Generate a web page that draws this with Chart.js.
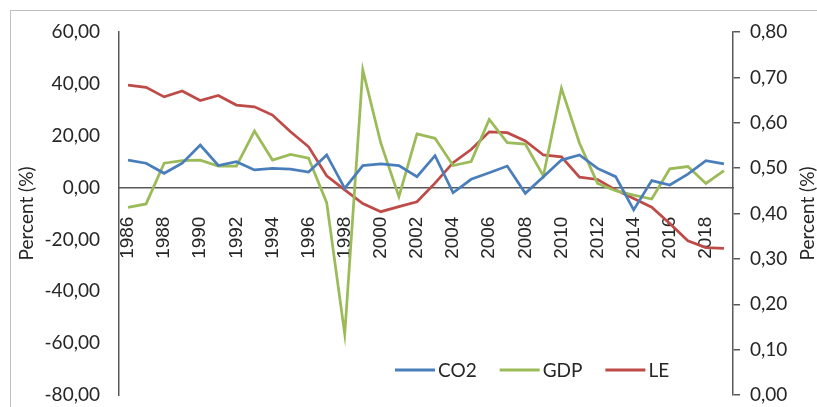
<!DOCTYPE html>
<html>
<head>
<meta charset="utf-8">
<script src="https://cdn.jsdelivr.net/npm/chart.js@4/dist/chart.umd.min.js"></script>
<style>
    html, body { margin: 0; padding: 0; background: #fff; overflow: hidden; }
    canvas { display: block; }
</style>
</head>
<body>
<canvas id="chart" width="817" height="407"></canvas>
<script>
const years = ['1986', '1987', '1988', '1989', '1990', '1991', '1992', '1993', '1994', '1995',
    '1996', '1997', '1998', '1999', '2000', '2001', '2002', '2003', '2004', '2005',
    '2006', '2007', '2008', '2009', '2010', '2011', '2012', '2013', '2014', '2015',
    '2016', '2017', '2018', '2019'];

const co2 = [10.6, 9.4, 5.5, 9.4, 16.4, 8.5, 10.0, 6.8, 7.4, 7.1,
    6.0, 12.6, -0.3, 8.5, 9.1, 8.5, 4.2, 12.3, -2.0, 3.2,
    5.7, 8.3, -2.2, 4.2, 10.6, 12.6, 7.4, 4.2, -8.6, 2.7,
    1.0, 5.2, 10.4, 9.1];

const gdp = [-7.6, -6.3, 9.4, 10.4, 10.6, 8.3, 8.3, 21.8, 10.6, 12.8,
    11.3, -5.8, -56.5, 45.4, 17.1, -3.5, 20.7, 19.0, 8.5, 10.0,
    26.3, 17.3, 16.8, 4.5, 38.3, 17.1, 1.6, -1.2, -2.9, -4.4,
    7.2, 8.1, 1.6, 6.5];

// life expectancy series sits on the right axis
const le = [0.683, 0.678, 0.657, 0.670, 0.649, 0.660, 0.639, 0.635, 0.617, 0.580,
    0.547, 0.483, 0.452, 0.422, 0.404, 0.415, 0.426, 0.467, 0.512, 0.541,
    0.580, 0.578, 0.560, 0.529, 0.525, 0.480, 0.475, 0.452, 0.433, 0.414,
    0.378, 0.340, 0.325, 0.323];

const seriesNames = ['CO2', 'GDP', 'LE'];
const axisTitle = 'Percent (%)';

const leftRange = { min: -80, max: 60, step: 20 };
const rightRange = { min: 0, max: 0.8, step: 0.1 };

const fmt = v => v.toFixed(2).replace('.', ',');
const axisColor = '#595959';
const textColor = '#262626';

// outer frame, titles and the legend (legend sits inside the plot like in Excel)
const decorPlugin = {
    id: 'decor',
    beforeDraw(chart) {
        const ctx = chart.ctx;
        ctx.save();
        ctx.strokeStyle = '#bfbfbf';
        ctx.lineWidth = 1;
        ctx.strokeRect(10.5, 10.5, 900, 500);
        ctx.restore();
    },
    afterDraw(chart) {
        const ctx = chart.ctx;
        const area = chart.chartArea;
        const midY = (area.top + area.bottom) / 2;
        ctx.save();
        ctx.fillStyle = textColor;
        ctx.font = '19px Lato';
        ctx.textAlign = 'center';
        ctx.textBaseline = 'middle';
        [27, 808].forEach(x => {
            ctx.save();
            ctx.translate(x, midY);
            ctx.rotate(-Math.PI / 2);
            ctx.fillText(axisTitle, 0, 0);
            ctx.restore();
        });

        let x = 395;
        const y = 370;
        ctx.textAlign = 'left';
        chart.data.datasets.forEach(ds => {
            ctx.strokeStyle = ds.borderColor;
            ctx.lineWidth = 3;
            ctx.beginPath();
            ctx.moveTo(x, y);
            ctx.lineTo(x + 40, y);
            ctx.stroke();
            ctx.fillStyle = textColor;
            ctx.fillText(ds.label, x + 43, y + 1);
            x += 43 + ctx.measureText(ds.label).width + 23;
        });
        ctx.restore();
    }
};

new Chart(document.getElementById('chart'), {
    type: 'line',
    data: {
        labels: years,
        datasets: [
            { label: seriesNames[0], data: co2, borderColor: '#4A7EBB', yAxisID: 'yL' },
            { label: seriesNames[1], data: gdp, borderColor: '#9BBB59', yAxisID: 'yL' },
            { label: seriesNames[2], data: le, borderColor: '#BE4B48', yAxisID: 'yR' }
        ]
    },
    options: {
        responsive: false,
        animation: false,
        elements: {
            point: { radius: 0 },
            line: { borderWidth: 2.75, tension: 0 }
        },
        layout: { padding: { top: 32, bottom: 12, left: 0, right: 0 } },
        plugins: {
            legend: { display: false },
            tooltip: { enabled: false }
        },
        scales: {
            x: {
                type: 'category',
                offset: true,
                position: { yL: 0 },
                grid: { display: false, drawTicks: false },
                border: { display: true, color: axisColor, width: 1.5 },
                ticks: {
                    autoSkip: false,
                    minRotation: 90,
                    maxRotation: 90,
                    padding: 29,
                    color: textColor,
                    font: { family: 'Liberation Sans', size: 19 },
                    callback: (v, i) => (i % 2 === 0 ? years[i] : '')
                },
                afterFit: s => { s.height = 0; }
            },
            yL: {
                position: 'left',
                min: leftRange.min,
                max: leftRange.max,
                grid: { display: false, drawTicks: false },
                border: { display: true, color: axisColor, width: 1.5 },
                ticks: {
                    stepSize: leftRange.step,
                    padding: 19,
                    color: textColor,
                    font: { family: 'Lato', size: 19 },
                    callback: v => fmt(v)
                },
                // tick padding would otherwise push the plot bottom up
                afterFit: s => { s.width = 119; s.paddingTop = 0; s.paddingBottom = 0; }
            },
            yR: {
                position: 'right',
                min: rightRange.min,
                max: rightRange.max,
                grid: { display: true, drawOnChartArea: false, drawTicks: true, tickLength: 7, color: axisColor, lineWidth: 1.5 },
                border: { display: true, color: axisColor, width: 1.5 },
                ticks: {
                    stepSize: rightRange.step,
                    padding: 10,
                    color: textColor,
                    font: { family: 'Lato', size: 19 },
                    callback: v => fmt(v)
                },
                afterFit: s => { s.width = 84; s.paddingTop = 0; s.paddingBottom = 0; }
            }
        }
    },
    plugins: [decorPlugin]
});
</script>
</body>
</html>
